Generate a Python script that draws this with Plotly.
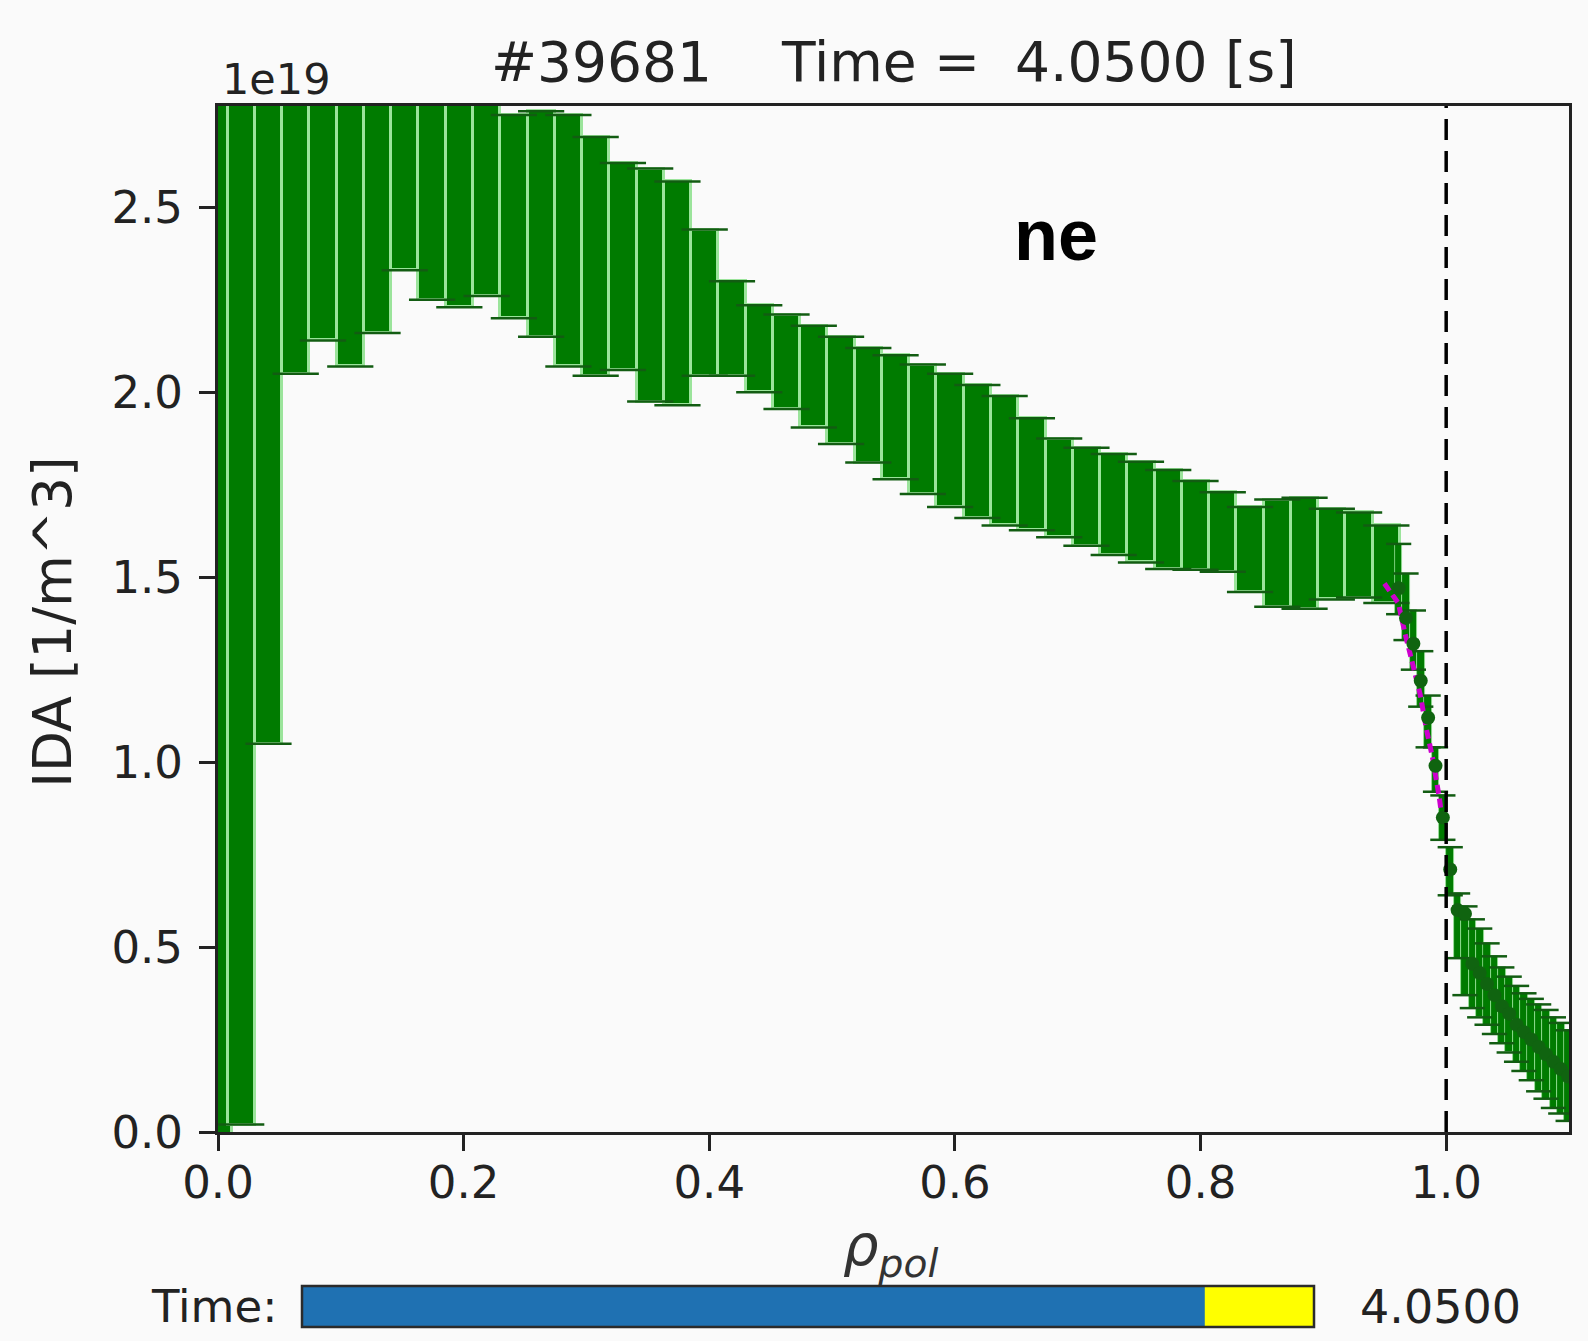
import numpy as np
import plotly.graph_objects as go

# ---------------- data ----------------
shot = 39681
t_now = 4.05
t_min, t_max = 0.0, 4.54

# IDA electron density (units of 1e19 m^-3): core profile, lower / upper bounds
core_rho = [0.0, 0.0189, 0.0411, 0.0633, 0.0855, 0.1077, 0.1299, 0.1521, 0.1743,
            0.1965, 0.2187, 0.2409, 0.2631, 0.2853, 0.3075, 0.3297, 0.3519, 0.3741,
            0.3963, 0.4185, 0.4407, 0.4629, 0.4851, 0.5073, 0.5295, 0.5517, 0.5739,
            0.5961, 0.6183, 0.6405, 0.6627, 0.6849, 0.7071, 0.7293, 0.7515, 0.7737,
            0.7959, 0.8181, 0.8403, 0.8625, 0.8847, 0.9069, 0.9291, 0.9513]
core_lo = [-0.05, 0.02, 1.05, 2.05, 2.14, 2.07, 2.16, 2.33, 2.25,
           2.23, 2.26, 2.20, 2.15, 2.07, 2.045, 2.06, 1.975, 1.965,
           2.045, 2.045, 2.00, 1.955, 1.905, 1.86, 1.81, 1.765, 1.725,
           1.69, 1.66, 1.64, 1.627, 1.608, 1.585, 1.56, 1.54, 1.522,
           1.52, 1.515, 1.46, 1.42, 1.415, 1.44, 1.445, 1.43]
core_hi = [3.40, 3.30, 3.20, 3.10, 3.05, 3.00, 2.95, 2.90, 2.88,
           2.85, 2.80, 2.75, 2.76, 2.75, 2.69, 2.62, 2.605, 2.57,
           2.44, 2.30, 2.235, 2.21, 2.18, 2.15, 2.12, 2.10, 2.075,
           2.05, 2.02, 1.99, 1.93, 1.875, 1.85, 1.833, 1.812, 1.79,
           1.76, 1.73, 1.69, 1.71, 1.715, 1.685, 1.675, 1.64]

# pedestal / SOL points: value with lower / upper bounds
edge_rho = [0.9613, 0.9673, 0.9733, 0.9793, 0.9853, 0.9913, 0.9973, 1.0033,
            1.0093, 1.0153, 1.0213, 1.0273, 1.0333, 1.0393, 1.0453, 1.0513,
            1.0573, 1.0633, 1.0693, 1.0753, 1.0813, 1.0873, 1.0933, 1.0993]
edge_ne = [1.47, 1.39, 1.32, 1.22, 1.12, 0.99, 0.85, 0.71,
           0.60, 0.59, 0.455, 0.43, 0.40, 0.37, 0.34, 0.32,
           0.29, 0.27, 0.25, 0.23, 0.21, 0.19, 0.17, 0.15]
edge_lo = [1.40, 1.33, 1.25, 1.15, 1.04, 0.92, 0.79, 0.64,
           0.47, 0.37, 0.335, 0.31, 0.29, 0.265, 0.24, 0.215,
           0.19, 0.165, 0.14, 0.11, 0.09, 0.065, 0.05, 0.03]
edge_hi = [1.59, 1.51, 1.41, 1.30, 1.18, 1.04, 0.91, 0.77,
           0.645, 0.61, 0.575, 0.55, 0.51, 0.475, 0.445, 0.42,
           0.395, 0.375, 0.36, 0.345, 0.33, 0.31, 0.295, 0.275]

# mapped edge profile (dashed magenta)
map_rho = [0.9497, 0.961, 0.9665, 0.972, 0.9787, 0.984, 0.989, 0.9944, 0.9963]
map_ne = [1.483, 1.43, 1.348, 1.271, 1.185, 1.088, 1.01, 0.904, 0.856]

separatrix = 1.0
x_ticks = [0.0, 0.2, 0.4, 0.6, 0.8, 1.0]
y_ticks = [0.0, 0.5, 1.0, 1.5, 2.0, 2.5]
x_range = [0.0, 1.1]
y_range = [0.0, 2.774]

# ---------------- style ----------------
FONT = "DejaVu Sans"
TXT = "#222222"
GREEN = "#007b00"
LIGHT = "#9be49b"
CAP = "#125c12"
MARK = "#106410"
BG = "#fafafa"

W, H = 1588, 1341
ML, MR, MT, MB = 218, 19, 106, 209

fig = go.Figure()


def add_errorbars(x, lo, hi, bar_w, outline, cap_len, cap_w):
    lo = np.asarray(lo, float)
    hi = np.asarray(hi, float)
    fig.add_trace(go.Bar(
        x=x, y=hi - lo, base=lo, width=bar_w,
        marker=dict(color=GREEN, line=dict(color=LIGHT, width=outline)),
        hoverinfo="skip", showlegend=False))
    fig.add_trace(go.Scatter(
        x=list(x) + list(x), y=list(lo) + list(hi), mode="markers",
        marker=dict(symbol="line-ew", size=cap_len,
                    line=dict(color=CAP, width=cap_w)),
        hoverinfo="skip", showlegend=False, cliponaxis=True))


add_errorbars(core_rho, core_lo, core_hi, 0.0222, 3, 33, 2.5)
add_errorbars(edge_rho, edge_lo, edge_hi, 0.0062, 0.8, 18, 2.5)

fig.add_trace(go.Scatter(
    x=map_rho, y=map_ne, mode="lines",
    line=dict(color="#cc00cc", width=5, dash="9px,5px"),
    hoverinfo="skip", showlegend=False))

fig.add_trace(go.Scatter(
    x=edge_rho, y=edge_ne, mode="markers",
    marker=dict(symbol="circle", size=14, color=MARK),
    hoverinfo="skip", showlegend=False))

# separatrix
fig.add_shape(type="line", xref="x", yref="paper", x0=separatrix, x1=separatrix,
              y0=0, y1=1, layer="above",
              line=dict(color="black", width=3.5, dash="21px,11px"))

axis_common = dict(
    showgrid=False, zeroline=False, showline=True, linecolor=TXT, linewidth=3,
    mirror=True, ticks="outside", ticklen=16, tickwidth=3, tickcolor=TXT,
)

fig.update_layout(
    width=W, height=H,
    margin=dict(l=ML, r=MR, t=MT, b=MB),
    paper_bgcolor=BG, plot_bgcolor=BG,
    barmode="overlay", bargap=0,
    font=dict(family=FONT, color=TXT),
    xaxis=dict(range=x_range, tickvals=x_ticks,
               ticktext=[f"{v:.1f}" for v in x_ticks],
               tickfont=dict(family=FONT, size=45, color=TXT),
               ticklabelstandoff=-7, **axis_common),
    yaxis=dict(range=y_range, tickvals=y_ticks,
               ticktext=[f"{v:.1f}" for v in y_ticks],
               tickfont=dict(family=FONT, size=45, color=TXT),
               ticklabelstandoff=7, **axis_common),
)

nb = "\u00a0"
title = f"#{shot}{nb*4}Time ={nb*2}{t_now:.4f} [s]"

ann = [
    dict(text=title, x=0.5, y=1, xref="paper", yref="paper", xanchor="center",
         yanchor="bottom", yshift=10, showarrow=False,
         font=dict(family=FONT, size=55, color=TXT)),
    dict(text="1e19", x=0, y=1, xref="paper", yref="paper", xanchor="left",
         yanchor="bottom", xshift=2, yshift=0, showarrow=False,
         font=dict(family=FONT, size=43, color=TXT)),
    dict(text="<b>ne</b>", x=0.620, y=0.8746, xref="paper", yref="paper",
         xanchor="center", yanchor="middle", showarrow=False,
         font=dict(family="Liberation Sans", size=72, color="black")),
    dict(text="IDA [1/m^3]", x=-0.1221, y=0.4964, xref="paper", yref="paper",
         xanchor="center", yanchor="middle", textangle=-90, showarrow=False,
         font=dict(family=FONT, size=53, color=TXT)),
    dict(text="<i>ρ</i><sub><i>pol</i></sub>", x=0.498, y=-0.115,
         xref="paper", yref="paper", xanchor="center", yanchor="middle",
         showarrow=False, font=dict(family=FONT, size=56, color="#333333")),
]

# time slider widget below the axes
pw = W - ML - MR
ph = H - MT - MB


def px_x(p):
    return (p - ML) / pw


def px_y(p):
    return (H - MB - p) / ph


sx0, sx1 = px_x(302), px_x(1314)
sy0, sy1 = px_y(1327), px_y(1286)
frac = (t_now - t_min) / (t_max - t_min)
sxv = sx0 + frac * (sx1 - sx0)

fig.add_shape(type="rect", xref="paper", yref="paper", x0=sx0, x1=sx1,
              y0=sy0, y1=sy1, fillcolor="#ffff00", line=dict(width=0), layer="above")
fig.add_shape(type="rect", xref="paper", yref="paper", x0=sx0, x1=sxv,
              y0=sy0, y1=sy1, fillcolor="#1f71b2", line=dict(width=0), layer="above")
fig.add_shape(type="rect", xref="paper", yref="paper", x0=sx0, x1=sx1,
              y0=sy0, y1=sy1, fillcolor="rgba(0,0,0,0)",
              line=dict(color="#2b2b2b", width=2.5), layer="above")

ann += [
    dict(text="Time:", x=px_x(279), y=(sy0 + sy1) / 2, xref="paper", yref="paper",
         xanchor="right", yanchor="middle", showarrow=False,
         font=dict(family=FONT, size=45, color=TXT)),
    dict(text=f"{t_now:.4f}", x=px_x(1358), y=(sy0 + sy1) / 2, xref="paper",
         yref="paper", xanchor="left", yanchor="middle", showarrow=False,
         font=dict(family=FONT, size=46, color=TXT)),
]
fig.update_layout(annotations=ann)

fig.write_html("out.html")
